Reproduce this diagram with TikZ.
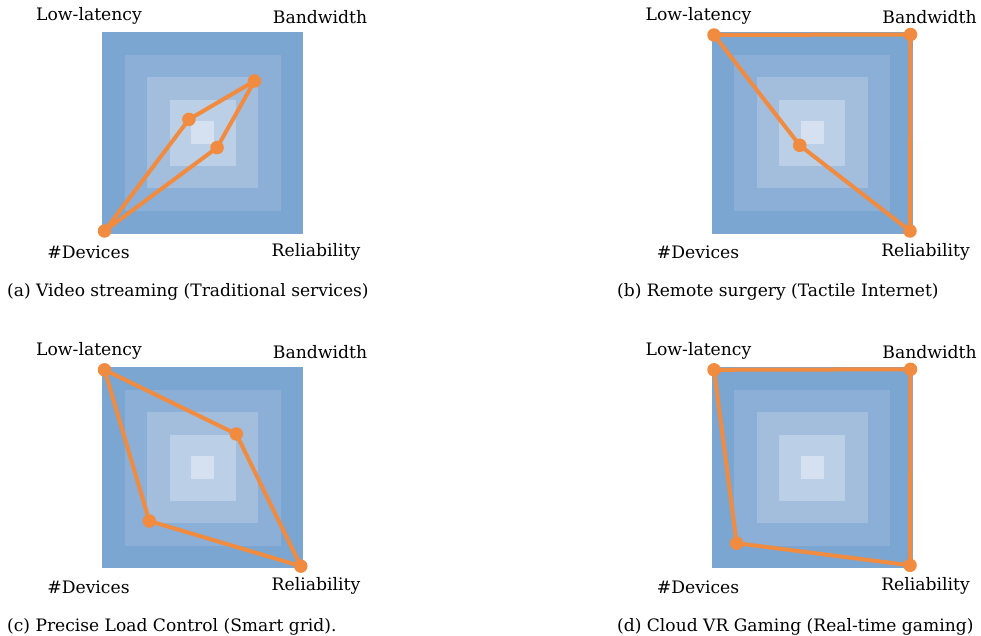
\documentclass[tikz,border=0pt]{standalone}
\usepackage{fontspec}
\setmainfont{DejaVu Serif}
\usepackage{tikz}

\definecolor{lvlA}{HTML}{7BA6D1}
\definecolor{lvlB}{HTML}{8BAFD7}
\definecolor{lvlC}{HTML}{A3BDDD}
\definecolor{lvlD}{HTML}{BBCFE7}
\definecolor{lvlE}{HTML}{D5E0F0}
\definecolor{orangeline}{HTML}{F08B40}

\tikzset{
  lbl/.style={font=\fontsize{17.2}{20}\selectfont, anchor=base, inner sep=0pt},
  capt/.style={font=\fontsize{17.1}{20}\selectfont, anchor=base west, inner sep=0pt},
  dot/.style={circle, fill=orangeline, inner sep=0pt, minimum size=13.5pt},
  poly/.style={draw=orangeline, line width=4pt, line join=round}
}

\begin{document}
\begin{tikzpicture}[x=1pt, y=-1pt]
\useasboundingbox (0,0) rectangle (981,636);

% (a) video streaming
\begin{scope}[shift={(202.5,133)}]
\fill[lvlA] (-100.5,-100.5) rectangle (100.5,100.5);
\fill[lvlB] (-78,-78) rectangle (78,78);
\fill[lvlC] (-55.5,-55.5) rectangle (55.5,55.5);
\fill[lvlD] (-33,-33) rectangle (33,33);
\fill[lvlE] (-11.5,-11.5) rectangle (11.5,11.5);
\node[lbl] (aLLlbl) at (-113.5,-112) {Low-latency};
\node[lbl] (aBWlbl) at (117.5,-109) {Bandwidth};
\node[lbl] (aDevlbl) at (-114,125.3) {\#Devices};
\node[lbl] (aRellbl) at (113.5,123) {Reliability};
\coordinate (aLL) at (-13.6,-13.6);
\coordinate (aBW) at (52,-52);
\coordinate (aRel) at (14.6,14.6);
\coordinate (aDev) at (-98,98);
\draw[poly] (aLL) -- (aBW) -- (aRel) -- (aDev) -- cycle;
\node[dot] (aLLdot) at (aLL) {};
\node[dot] (aBWdot) at (aBW) {};
\node[dot] (aReldot) at (aRel) {};
\node[dot] (aDevdot) at (aDev) {};
\node[capt] (acap) at (-195.5,163.7) {(a) Video streaming (Traditional services)};
\end{scope}

% (b) remote surgery
\begin{scope}[shift={(812,133)}]
\fill[lvlA] (-100.5,-100.5) rectangle (100.5,100.5);
\fill[lvlB] (-78,-78) rectangle (78,78);
\fill[lvlC] (-55.5,-55.5) rectangle (55.5,55.5);
\fill[lvlD] (-33,-33) rectangle (33,33);
\fill[lvlE] (-11.5,-11.5) rectangle (11.5,11.5);
\node[lbl] (bLLlbl) at (-113.5,-112) {Low-latency};
\node[lbl] (bBWlbl) at (117.5,-109) {Bandwidth};
\node[lbl] (bDevlbl) at (-114,125.3) {\#Devices};
\node[lbl] (bRellbl) at (113.5,123) {Reliability};
\coordinate (bLL) at (-98,-98);
\coordinate (bBW) at (98.5,-98.5);
\coordinate (bRel) at (98,98);
\coordinate (bDev) at (-12.3,12.3);
\draw[poly] (bLL) -- (bBW) -- (bRel) -- (bDev) -- cycle;
\node[dot] (bLLdot) at (bLL) {};
\node[dot] (bBWdot) at (bBW) {};
\node[dot] (bReldot) at (bRel) {};
\node[dot] (bDevdot) at (bDev) {};
\node[capt] (bcap) at (-195,163.7) {(b) Remote surgery (Tactile Internet)};
\end{scope}

% (c) smart grid
\begin{scope}[shift={(202.5,467.8)}]
\fill[lvlA] (-100.5,-100.5) rectangle (100.5,100.5);
\fill[lvlB] (-78,-78) rectangle (78,78);
\fill[lvlC] (-55.5,-55.5) rectangle (55.5,55.5);
\fill[lvlD] (-33,-33) rectangle (33,33);
\fill[lvlE] (-11.5,-11.5) rectangle (11.5,11.5);
\node[lbl] (cLLlbl) at (-113.5,-112) {Low-latency};
\node[lbl] (cBWlbl) at (117.5,-109) {Bandwidth};
\node[lbl] (cDevlbl) at (-114,125.3) {\#Devices};
\node[lbl] (cRellbl) at (113.5,123) {Reliability};
\coordinate (cLL) at (-98,-98);
\coordinate (cBW) at (33.8,-33.8);
\coordinate (cRel) at (98.3,98.3);
\coordinate (cDev) at (-53.2,53.2);
\draw[poly] (cLL) -- (cBW) -- (cRel) -- (cDev) -- cycle;
\node[dot] (cLLdot) at (cLL) {};
\node[dot] (cBWdot) at (cBW) {};
\node[dot] (cReldot) at (cRel) {};
\node[dot] (cDevdot) at (cDev) {};
\node[capt] (ccap) at (-195.5,163.7) {(c) Precise Load Control (Smart grid).};
\end{scope}

% (d) cloud gaming
\begin{scope}[shift={(812,467.8)}]
\fill[lvlA] (-100.5,-100.5) rectangle (100.5,100.5);
\fill[lvlB] (-78,-78) rectangle (78,78);
\fill[lvlC] (-55.5,-55.5) rectangle (55.5,55.5);
\fill[lvlD] (-33,-33) rectangle (33,33);
\fill[lvlE] (-11.5,-11.5) rectangle (11.5,11.5);
\node[lbl] (dLLlbl) at (-113.5,-112) {Low-latency};
\node[lbl] (dBWlbl) at (117.5,-109) {Bandwidth};
\node[lbl] (dDevlbl) at (-114,125.3) {\#Devices};
\node[lbl] (dRellbl) at (113.5,123) {Reliability};
\coordinate (dLL) at (-98,-98);
\coordinate (dBW) at (98.5,-98.5);
\coordinate (dRel) at (98,97.5);
\coordinate (dDev) at (-75.4,75.4);
\draw[poly] (dLL) -- (dBW) -- (dRel) -- (dDev) -- cycle;
\node[dot] (dLLdot) at (dLL) {};
\node[dot] (dBWdot) at (dBW) {};
\node[dot] (dReldot) at (dRel) {};
\node[dot] (dDevdot) at (dDev) {};
\node[capt] (dcap) at (-195,163.7) {(d) Cloud VR Gaming (Real-time gaming)};
\end{scope}

\end{tikzpicture}
\end{document}
